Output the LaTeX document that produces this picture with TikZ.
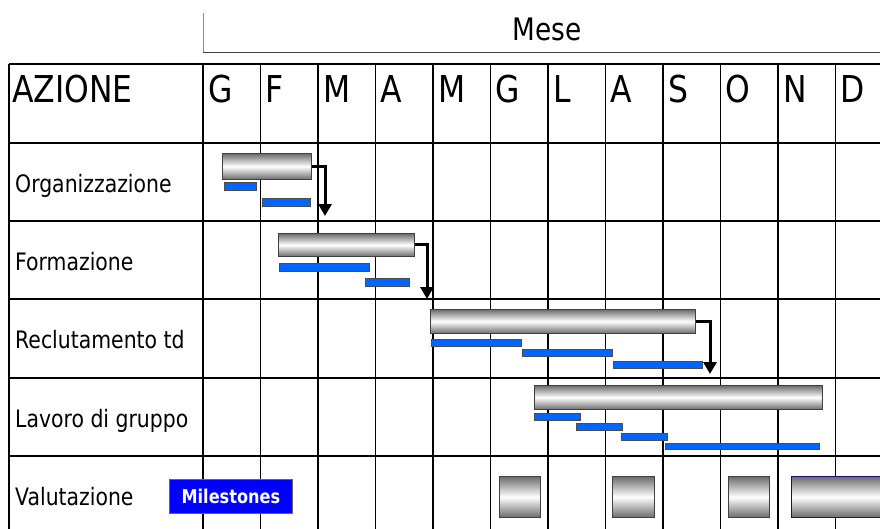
\documentclass[tikz,border=0pt]{standalone}
\usepackage{fontspec}
\setmainfont{DejaVu Sans}[FakeStretch=0.85]
\usetikzlibrary{arrows.meta}
\definecolor{taskblue}{RGB}{0,102,255}
\definecolor{mileblue}{RGB}{0,0,255}
\definecolor{navyedge}{RGB}{20,20,110}
\begin{document}
\begin{tikzpicture}[x=1pt,y=-1pt,
  grid/.style={line width=1.5pt, black},
  bar/.style={draw=black!75, line width=0.9pt, top color=black!58, bottom color=black!58, middle color=white, inner sep=0pt, anchor=north west},
  task/.style={draw=black!70, line width=0.8pt, fill=taskblue, inner sep=0pt, anchor=north west},
  flow/.style={line width=3pt, line join=miter, -{Triangle[width=13pt,length=12pt]}},
  head/.style={inner sep=0pt, anchor=base west, font=\fontsize{37}{40}\selectfont},
  rowlabel/.style={inner sep=0pt, anchor=base west, font=\fontsize{24}{26}\selectfont},
]
\useasboundingbox (0,0) rectangle (880,528);
\clip (0,0) rectangle (880,528);

% month caption above the table
\draw[black!45, line width=1pt] (203,13) -- (203,52);
\draw[black!75, line width=1pt] (203,52) -- (880,52);
\node[inner sep=0pt, anchor=base, font=\fontsize{31}{33}\selectfont] (mese) at (547,40) {Mese};

% table grid
\foreach \y in {64,143,221,299,378,456}
  \draw[grid] (9,\y) -- (890,\y);
\draw[grid] (9,64) -- (9,540);
\foreach \k in {0,...,11}
  \draw[grid] (203+57.5*\k,64) -- (203+57.5*\k,540);

% header row
\node[head] (azione) at (12,102) {AZIONE};
\foreach \m [count=\k from 0] in {G,F,M,A,M,G,L,A,S,O,N,D}
  \node[head] (month\k) at (208+57.5*\k,102) {\m};

% row labels
\node[rowlabel] (lorg) at (15,192) {Organizzazione};
\node[rowlabel] (lform) at (15,270) {Formazione};
\node[rowlabel] (lrec) at (15,348) {Reclutamento td};
\node[rowlabel] (llav) at (15,427) {Lavoro di gruppo};
\node[rowlabel] (lval) at (15,505) {Valutazione};

% Organizzazione
\node[bar, minimum width=89pt, minimum height=26pt] (org) at (222,153) {};
\node[task, minimum width=32pt, minimum height=8pt] (org1) at (224,182) {};
\node[task, minimum width=48pt, minimum height=8pt] (org2) at (262,198) {};
\coordinate (orgEnd) at (325,216);
\draw[flow] (org.east) -| (orgEnd);

% Formazione
\node[bar, minimum width=136pt, minimum height=23pt] (form) at (278,233) {};
\node[task, minimum width=90pt, minimum height=7.5pt] (form1) at (279,263) {};
\node[task, minimum width=44pt, minimum height=7.5pt] (form2) at (365,278) {};
\coordinate (formEnd) at (427,299);
\draw[flow] (form.east) -| (formEnd);

% Reclutamento td
\node[bar, minimum width=265pt, minimum height=24pt] (rec) at (430,309) {};
\node[task, minimum width=90pt, minimum height=7pt] (rec1) at (431,339) {};
\node[task, minimum width=90pt, minimum height=7pt] (rec2) at (522,349) {};
\node[task, minimum width=89pt, minimum height=7pt] (rec3) at (613,361) {};
\coordinate (recEnd) at (710,374);
\draw[flow] (rec.east) -| (recEnd);

% Lavoro di gruppo
\node[bar, minimum width=288pt, minimum height=24pt] (lav) at (534,385) {};
\node[task, minimum width=46pt, minimum height=7pt] (lav1) at (534,413) {};
\node[task, minimum width=46pt, minimum height=7pt] (lav2) at (576,423) {};
\node[task, minimum width=46pt, minimum height=7pt] (lav3) at (621,433) {};
\node[task, minimum width=154pt, minimum height=6pt] (lav4) at (665,443) {};

% Valutazione: milestones
\node[fill=mileblue, draw=black!60, line width=0.8pt, minimum width=123pt, minimum height=34pt,
      anchor=north west, inner sep=0pt, text=white,
      font=\bfseries\fontsize{19}{20}\selectfont] (ms) at (169,479) {Milestones};
\node[bar, minimum width=41pt, minimum height=41pt] (ms1) at (499,476) {};
\node[bar, minimum width=42pt, minimum height=41pt] (ms2) at (612,476) {};
\node[bar, minimum width=41pt, minimum height=41pt] (ms3) at (728,476) {};
\node[bar, draw=navyedge, minimum width=100pt, minimum height=41pt] (ms4) at (791,476) {};
\end{tikzpicture}
\end{document}
